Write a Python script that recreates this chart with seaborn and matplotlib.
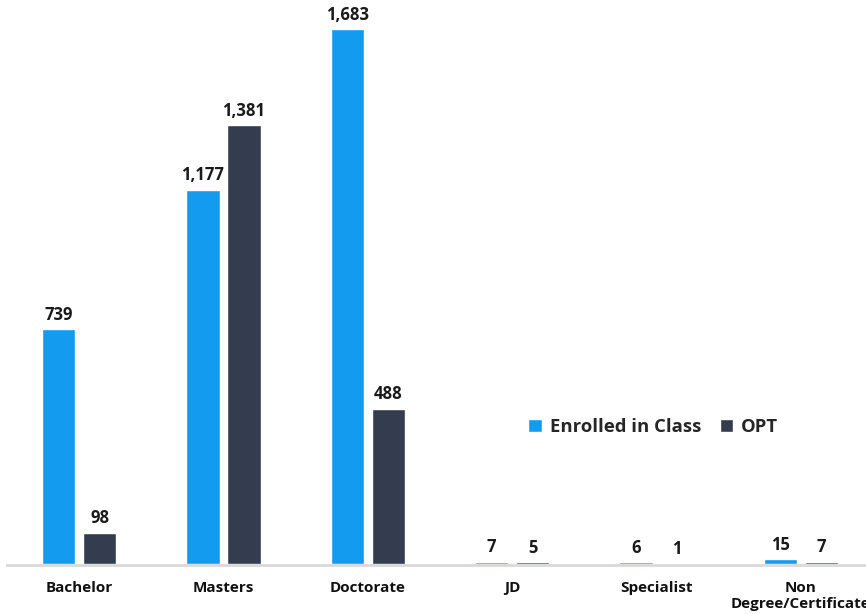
import pandas as pd
import matplotlib.pyplot as plt
import seaborn as sns

# --- data ---
degrees = ['Bachelor', 'Masters', 'Doctorate', 'JD', 'Specialist', 'Non\nDegree/Certificate']
enrolled = [739, 1177, 1683, 7, 6, 15]
opt = [98, 1381, 488, 5, 1, 7]
series_names = ['Enrolled in Class', 'OPT']
colors = ['#139CEF', '#333D4F']

df = pd.DataFrame({
    'Degree': degrees * 2,
    'Count': enrolled + opt,
    'Status': [series_names[0]] * len(degrees) + [series_names[1]] * len(degrees),
})

sns.set_style('white')
plt.rcParams['font.family'] = ['Open Sans', 'DejaVu Sans']

fig = plt.figure(figsize=(8.66, 6.14), dpi=100)
ax = fig.add_axes([0.008, 0.0814, 1.0, 0.9186])

sns.barplot(data=df, x='Degree', y='Count', hue='Status', palette=colors,
            width=0.57, gap=0.19, ax=ax, saturation=1, zorder=3)

# value labels
for cont in ax.containers:
    ax.bar_label(cont, labels=[f'{v:,.0f}' for v in cont.datavalues],
                 padding=4, fontsize=12, fontweight='bold', color='#1a1a1a')

ax.set_ylim(0, 1775)
ax.set_xlim(-0.5, 5.5)
ax.set_xlabel('')
ax.set_ylabel('')
ax.set_yticks([])
for s in ['top', 'right', 'left']:
    ax.spines[s].set_visible(False)
ax.spines['bottom'].set_color('#d9d9d9')
ax.spines['bottom'].set_linewidth(2)
ax.spines['bottom'].set_position(('outward', 1))
ax.spines['bottom'].set_zorder(1)
ax.tick_params(axis='x', length=0, pad=11)
for lbl in ax.get_xticklabels():
    lbl.set_fontsize(11)
    lbl.set_fontweight('bold')
    lbl.set_color('#111111')

ax.legend(loc='center left', bbox_to_anchor=(0.591, 0.305), bbox_transform=fig.transFigure,
          frameon=False, ncol=2, handlelength=0.75, handleheight=0.75,
          handletextpad=0.4, columnspacing=1.0, prop={'weight': 'bold', 'size': 13.3})

fig.savefig('out.png', dpi=100)
